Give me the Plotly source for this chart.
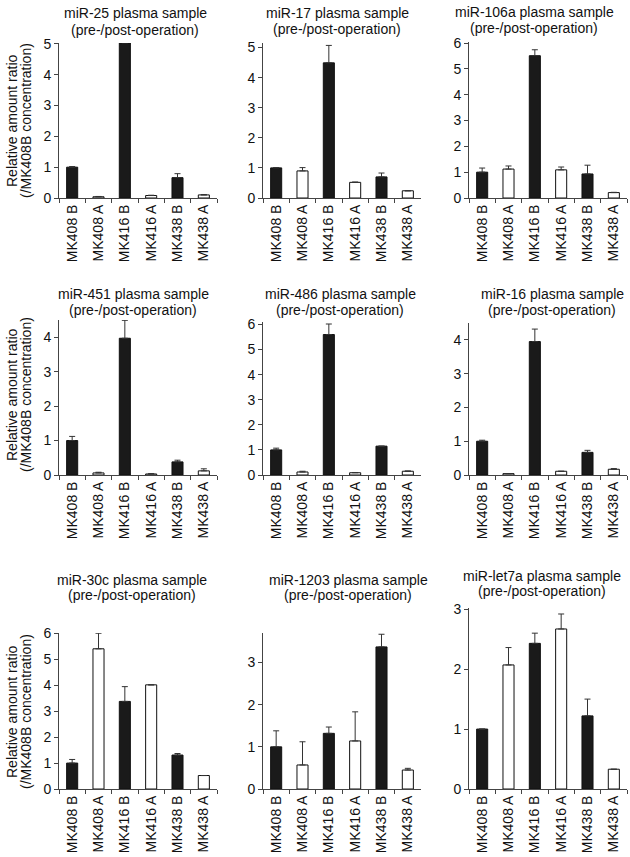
import plotly.graph_objects as go

W, H = 630, 857

categories = ["MK408 B", "MK408 A", "MK416 B", "MK416 A", "MK438 B", "MK438 A"]
is_before = [True, False, True, False, True, False]

titles = ["miR-25", "miR-17", "miR-106a",
          "miR-451", "miR-486", "miR-16",
          "miR-30c", "miR-1203", "miR-let7a"]

mir25_vals = [1.0, 0.04, 5.03, 0.08, 0.66, 0.10]
mir25_err = [0.02, 0.01, 0.02, 0.01, 0.13, 0.01]
mir17_vals = [1.0, 0.90, 4.49, 0.52, 0.70, 0.24]
mir17_err = [0.01, 0.11, 0.58, 0.01, 0.13, 0.0]
mir106a_vals = [1.0, 1.12, 5.51, 1.09, 0.93, 0.21]
mir106a_err = [0.16, 0.12, 0.23, 0.11, 0.34, 0.01]
mir451_vals = [1.0, 0.06, 3.97, 0.03, 0.38, 0.12]
mir451_err = [0.12, 0.02, 0.52, 0.01, 0.05, 0.06]
mir486_vals = [1.0, 0.12, 5.60, 0.09, 1.15, 0.15]
mir486_err = [0.07, 0.03, 0.42, 0.01, 0.0, 0.01]
mir16_vals = [1.0, 0.04, 3.95, 0.11, 0.67, 0.17]
mir16_err = [0.03, 0.0, 0.37, 0.0, 0.06, 0.02]
mir30c_vals = [1.0, 5.41, 3.38, 4.02, 1.31, 0.52]
mir30c_err = [0.14, 0.60, 0.57, 0.0, 0.06, 0.0]
mir1203_vals = [1.0, 0.57, 1.32, 1.14, 3.37, 0.45]
mir1203_err = [0.38, 0.55, 0.15, 0.69, 0.30, 0.04]
mirlet7a_vals = [1.0, 2.07, 2.43, 2.67, 1.22, 0.33]
mirlet7a_err = [0.0, 0.29, 0.17, 0.25, 0.28, 0.0]

values = [mir25_vals, mir17_vals, mir106a_vals, mir451_vals, mir486_vals,
          mir16_vals, mir30c_vals, mir1203_vals, mirlet7a_vals]
errors = [mir25_err, mir17_err, mir106a_err, mir451_err, mir486_err,
          mir16_err, mir30c_err, mir1203_err, mirlet7a_err]

y_max = [5.03, 5.15, 6.04, 4.5, 6.1, 4.5, 6.02, 3.7, 3.02]

# layout (pixels)
col_x = [(59, 217), (263, 421), (469, 627)]
plot_y = [(43, 198), (43, 198), (42, 198),
          (320, 475), (322, 475), (323, 475),
          (633, 789), (633, 789), (608, 789)]
title_pos = [(135, 13, 30), (337, 13, 29), (534, 12, 28),
             (133, 294, 310), (340, 294, 310), (552, 294, 310),
             (132, 580, 595), (348, 580, 595), (542, 576, 591)]
ytitle_center = [121, 395, 712]

FONT = "Liberation Sans, Arial, sans-serif"
TXT = "#111111"
AX = "#444444"
FS = 14

fig = go.Figure()
annotations = []
for i in range(9):
    r, c = divmod(i, 3)
    xa = "x" if i == 0 else f"x{i+1}"
    ya = "y" if i == 0 else f"y{i+1}"
    colors = ["#1a1a1a" if b else "#ffffff" for b in is_before]
    fig.add_trace(go.Bar(
        x=categories, y=values[i], xaxis=xa, yaxis=ya,
        width=0.42,
        marker=dict(color=colors, line=dict(color="#111111", width=1)),
        error_y=dict(type="data", array=errors[i], arrayminus=[0]*6,
                     symmetric=False, color="#333333", thickness=1, width=3),
        showlegend=False, cliponaxis=False, hoverinfo="skip",
    ))
    x0, x1 = col_x[c]
    y0, y1 = plot_y[i]
    xkey = "xaxis" if i == 0 else f"xaxis{i+1}"
    ykey = "yaxis" if i == 0 else f"yaxis{i+1}"
    fig.update_layout({
        xkey: dict(domain=[x0 / W, x1 / W], anchor=ya, type="category",
                   automargin=False,
                   showline=True, linecolor=AX, linewidth=1,
                   ticks="outside", ticklen=4, tickcolor=AX, tickwidth=1,
                   tickson="boundaries", tickangle=-90,
                   showgrid=False, zeroline=False,
                   tickfont=dict(family=FONT, size=FS, color=TXT)),
        ykey: dict(domain=[1 - y1 / H, 1 - y0 / H], anchor=xa,
                   automargin=False,
                   range=[0, y_max[i]], dtick=1, tick0=0,
                   showline=True, linecolor=AX, linewidth=1,
                   ticks="outside", ticklen=4, tickcolor=AX, tickwidth=1,
                   showgrid=False, zeroline=False,
                   tickfont=dict(family=FONT, size=FS, color=TXT)),
    })
    tx, ty1, ty2 = title_pos[i]
    annotations.append(dict(text=f"{titles[i]} plasma sample", x=tx / W, y=1 - ty1 / H,
                            xref="paper", yref="paper", showarrow=False,
                            xanchor="center", yanchor="middle",
                            font=dict(family=FONT, size=FS, color=TXT)))
    annotations.append(dict(text="(pre-/post-operation)", x=tx / W, y=1 - ty2 / H,
                            xref="paper", yref="paper", showarrow=False,
                            xanchor="center", yanchor="middle",
                            font=dict(family=FONT, size=FS, color=TXT)))

for yc in ytitle_center:
    annotations.append(dict(text="Relative amount ratio", x=12 / W, y=1 - yc / H,
                            xref="paper", yref="paper", showarrow=False, textangle=-90,
                            xanchor="center", yanchor="middle",
                            font=dict(family=FONT, size=FS, color=TXT)))
    annotations.append(dict(text="(/MK408B concentration)", x=26 / W, y=1 - yc / H,
                            xref="paper", yref="paper", showarrow=False, textangle=-90,
                            xanchor="center", yanchor="middle",
                            font=dict(family=FONT, size=FS, color=TXT)))

fig.update_layout(width=W, height=H, margin=dict(l=0, r=0, t=0, b=0, autoexpand=False),
                  plot_bgcolor="white", paper_bgcolor="white",
                  annotations=annotations, bargap=0.58, hovermode=False)

fig.write_html("out.html", config={"displayModeBar": False, "staticPlot": True},
               post_script="document.body.style.margin='0';document.body.style.overflow='hidden';")
